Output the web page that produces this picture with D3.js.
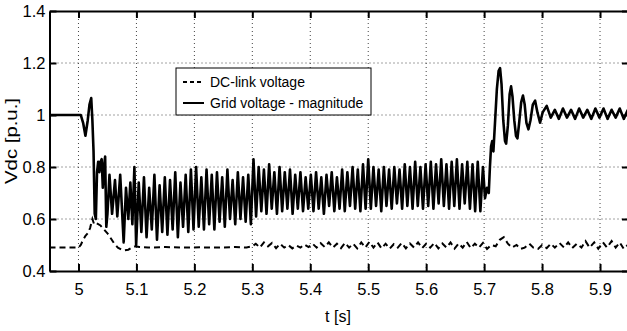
<!DOCTYPE html>
<html>
<head>
<meta charset="utf-8">
<script src="https://cdn.jsdelivr.net/npm/d3@7"></script>
<style>
  body { margin: 0; background: #fff; }
  svg { display: block; font-family: "Liberation Sans", Arial, sans-serif; }
</style>
</head>
<body>
<div id="chart"></div>
<script>
// tick values
const xTicks = [5, 5.1, 5.2, 5.3, 5.4, 5.5, 5.6, 5.7, 5.8, 5.9];
const yTicks = [0.4, 0.6, 0.8, 1, 1.2, 1.4];
const seriesNames = ['DC-link voltage', 'Grid voltage - magnitude'];

// DC-link voltage [t, p.u.] (dashed)
const dcLink = [
  [4.95,0.49],[5.0,0.49],[5.004,0.50],[5.008,0.52],[5.012,0.535],[5.016,0.545],[5.020,0.565],[5.024,0.60],
  [5.027,0.58],[5.030,0.585],[5.034,0.58],[5.038,0.575],[5.044,0.56],[5.050,0.545],[5.056,0.525],[5.062,0.505],
  [5.068,0.49],[5.074,0.483],[5.080,0.48],[5.086,0.482],[5.092,0.49],[5.098,0.495],[5.105,0.492],[5.12,0.49],
  [5.15,0.492],[5.18,0.49],[5.21,0.491],[5.24,0.49],[5.27,0.492],[5.29,0.49],
  [5.300,0.495],[5.306,0.505],[5.313,0.49],[5.320,0.51],[5.327,0.495],[5.334,0.508],[5.341,0.488],[5.348,0.505],
  [5.355,0.49],[5.362,0.50],[5.369,0.487],[5.376,0.498],[5.383,0.49],[5.390,0.502],[5.397,0.492],[5.404,0.505],
  [5.411,0.49],[5.418,0.507],[5.425,0.492],[5.432,0.51],[5.439,0.49],[5.446,0.505],[5.453,0.488],[5.460,0.508],
  [5.467,0.49],[5.474,0.505],[5.481,0.487],[5.488,0.51],[5.495,0.49],[5.502,0.512],[5.509,0.49],[5.516,0.51],
  [5.523,0.487],[5.530,0.505],[5.537,0.486],[5.544,0.503],[5.551,0.49],[5.558,0.508],[5.565,0.487],[5.572,0.506],
  [5.579,0.49],[5.586,0.51],[5.593,0.488],[5.600,0.505],[5.607,0.49],[5.614,0.508],[5.621,0.487],[5.628,0.506],
  [5.635,0.49],[5.642,0.51],[5.649,0.486],[5.656,0.506],[5.663,0.49],[5.670,0.512],[5.677,0.488],[5.684,0.505],
  [5.691,0.49],[5.698,0.508],[5.705,0.485],[5.712,0.50],[5.720,0.495],[5.727,0.52],[5.734,0.53],[5.741,0.505],
  [5.748,0.49],[5.756,0.50],[5.763,0.485],[5.770,0.49],[5.778,0.505],[5.785,0.49],[5.793,0.485],[5.800,0.50],
  [5.808,0.488],[5.815,0.505],[5.822,0.49],[5.830,0.508],[5.838,0.49],[5.845,0.51],[5.852,0.488],[5.860,0.505],
  [5.868,0.49],[5.875,0.515],[5.882,0.49],[5.890,0.51],[5.897,0.486],[5.905,0.51],[5.912,0.49],[5.920,0.515],
  [5.927,0.49],[5.934,0.51],[5.941,0.485],[5.950,0.505]
];

// Grid voltage magnitude [t, p.u.] (solid)
const gridMag = [
  [4.95,1.0],[5.0,1.0],[5.004,1.0],[5.008,0.97],[5.012,0.92],[5.016,0.98],[5.019,1.04],[5.022,1.065],
  [5.024,0.98],[5.026,0.86],[5.028,0.62],[5.030,0.60],[5.032,0.78],[5.034,0.82],[5.036,0.78],[5.038,0.82],
  [5.040,0.83],[5.042,0.72],[5.044,0.80],[5.046,0.84],[5.048,0.57],[5.050,0.62],
  [5.0535,0.77],[5.058,0.62],[5.063,0.75],[5.067,0.61],[5.072,0.77],[5.078,0.51],[5.082,0.72],[5.086,0.60],
  [5.0895,0.74],[5.093,0.58],[5.0965,0.80],[5.0995,0.50],
  [5.104,0.74],[5.1085,0.55],[5.113,0.76],[5.1175,0.53],[5.122,0.72],[5.1265,0.56],[5.131,0.77],[5.1355,0.52],
  [5.140,0.73],[5.1445,0.55],[5.149,0.76],[5.1535,0.54],[5.158,0.75],[5.1625,0.56],[5.167,0.78],[5.1715,0.53],
  [5.176,0.74],[5.1805,0.57],[5.185,0.77],[5.1895,0.55],[5.194,0.79],[5.1985,0.56],
  [5.203,0.80],[5.2075,0.57],[5.212,0.76],[5.2165,0.56],[5.221,0.79],[5.2255,0.58],[5.230,0.77],[5.2345,0.56],
  [5.239,0.78],[5.2435,0.59],[5.248,0.76],[5.2525,0.57],[5.257,0.79],[5.2615,0.60],[5.266,0.75],[5.2705,0.58],
  [5.275,0.78],[5.2795,0.60],[5.284,0.76],[5.2885,0.59],[5.293,0.77],[5.2975,0.58],
  [5.302,0.83],[5.3065,0.61],[5.311,0.80],[5.3155,0.63],[5.320,0.79],[5.3245,0.62],[5.329,0.81],[5.3335,0.64],
  [5.338,0.78],[5.3425,0.62],[5.347,0.80],[5.3515,0.63],[5.356,0.78],[5.3605,0.64],[5.365,0.79],[5.3695,0.62],
  [5.374,0.77],[5.3785,0.64],[5.383,0.78],[5.3875,0.63],[5.392,0.76],[5.3965,0.64],
  [5.401,0.77],[5.4055,0.63],[5.410,0.78],[5.4145,0.64],[5.419,0.76],[5.4235,0.62],[5.428,0.77],[5.4325,0.65],
  [5.437,0.78],[5.4415,0.63],[5.446,0.76],[5.4505,0.64],[5.455,0.79],[5.4595,0.63],[5.464,0.78],[5.4685,0.65],
  [5.473,0.80],[5.4775,0.64],[5.482,0.79],[5.4865,0.63],[5.491,0.81],[5.4955,0.64],
  [5.500,0.83],[5.5045,0.64],[5.509,0.80],[5.5135,0.65],[5.518,0.79],[5.5225,0.63],[5.527,0.80],[5.5315,0.65],
  [5.536,0.79],[5.5405,0.64],[5.545,0.80],[5.5495,0.66],[5.554,0.79],[5.5585,0.64],[5.563,0.81],[5.5675,0.65],
  [5.572,0.80],[5.5765,0.64],[5.581,0.82],[5.5855,0.65],[5.590,0.80],[5.5945,0.64],
  [5.599,0.81],[5.6035,0.65],[5.608,0.82],[5.6125,0.64],[5.617,0.81],[5.6215,0.66],[5.626,0.83],[5.6305,0.65],
  [5.635,0.81],[5.6395,0.64],[5.644,0.82],[5.6485,0.65],[5.653,0.83],[5.6575,0.64],[5.662,0.81],[5.6665,0.66],
  [5.671,0.82],[5.6755,0.64],[5.680,0.81],[5.6845,0.63],[5.689,0.82],[5.6935,0.63],[5.698,0.80],[5.7015,0.68],
  [5.705,0.72],[5.708,0.70],[5.710,0.80],[5.712,0.88],[5.714,0.90],[5.716,0.86],[5.719,0.98],[5.722,1.10],
  [5.725,1.17],[5.7275,1.18],[5.730,1.12],[5.733,0.98],[5.736,0.90],[5.738,0.89],[5.741,0.96],[5.744,1.08],
  [5.7465,1.11],[5.749,1.07],[5.752,0.98],[5.755,0.92],[5.7575,0.91],[5.760,0.96],[5.764,1.05],[5.767,1.075],
  [5.770,1.04],[5.773,0.97],[5.7765,0.945],[5.780,0.98],[5.784,1.04],[5.788,1.055],[5.792,1.01],[5.7965,0.97],
  [5.801,1.01],[5.808,1.035],[5.815,0.99],[5.822,1.02],[5.829,0.985],[5.836,1.025],[5.843,0.99],[5.850,1.02],
  [5.857,0.985],[5.864,1.025],[5.871,0.99],[5.878,1.02],[5.885,0.985],[5.892,1.025],[5.899,0.99],[5.906,1.025],
  [5.913,0.985],[5.920,1.02],[5.927,0.99],[5.934,1.025],[5.941,0.985],[5.948,1.02]
];

let width = 627, height = 331;
let margin = { top: 11, right: -2, bottom: 60, left: 49.5 };
let w = width - margin.left - margin.right,
    h = height - margin.top - margin.bottom;

let x = d3.scaleLinear().domain([4.95, 5.95]).range([0, w]);
let y = d3.scaleLinear().domain([0.4, 1.4]).range([h, 0]);

let svg = d3.select('#chart').append('svg')
    .attr('width', width)
    .attr('height', height);

let main = svg.append('g')
    .attr('transform', 'translate(' + margin.left + ',' + margin.top + ')');

svg.append('defs').append('clipPath').attr('id', 'clip')
    .append('rect').attr('width', w).attr('height', h);

// dotted grid
let grid = main.append('g').attr('class', 'grid');
grid.selectAll('line.vx').data(xTicks).enter().append('line')
    .attr('x1', d => x(d)).attr('x2', d => x(d))
    .attr('y1', 0).attr('y2', h);
grid.selectAll('line.hy').data(yTicks.filter(d => d > 0.4 && d < 1.4)).enter().append('line')
    .attr('x1', 0).attr('x2', w)
    .attr('y1', d => y(d)).attr('y2', d => y(d));
grid.selectAll('line')
    .attr('stroke', '#444')
    .attr('stroke-width', 1)
    .attr('stroke-dasharray', '1,3');

// lines
let line = d3.line()
    .x(d => x(d[0]))
    .y(d => y(d[1]));

let plot = main.append('g').attr('clip-path', 'url(#clip)');

plot.append('path')
    .datum(dcLink)
    .attr('d', line)
    .attr('fill', 'none')
    .attr('stroke', '#000')
    .attr('stroke-width', 2)
    .attr('stroke-dasharray', '6,4');

plot.append('path')
    .datum(gridMag)
    .attr('d', line)
    .attr('fill', 'none')
    .attr('stroke', '#000')
    .attr('stroke-width', 2.6)
    .attr('stroke-linejoin', 'round');

// axes, ticks pointing inward
let fmt = d => d3.format('')(+d.toFixed(1));
let axes = [
    main.append('g').attr('transform', 'translate(0,' + h + ')')
        .call(d3.axisBottom(x).tickValues(xTicks).tickFormat(fmt).tickSizeInner(-7).tickSizeOuter(0).tickPadding(12)),
    main.append('g')
        .call(d3.axisLeft(y).tickValues(yTicks).tickFormat(fmt).tickSizeInner(-7).tickSizeOuter(0).tickPadding(4)),
    main.append('g')
        .call(d3.axisTop(x).tickValues(xTicks).tickFormat('').tickSizeInner(-7).tickSizeOuter(0)),
    main.append('g').attr('transform', 'translate(' + w + ',0)')
        .call(d3.axisRight(y).tickValues(yTicks).tickFormat('').tickSizeInner(-7).tickSizeOuter(0))
];
axes.forEach(a => {
    a.selectAll('.domain').attr('stroke', '#000').attr('stroke-width', 2);
    a.selectAll('.tick line').attr('stroke', '#000').attr('stroke-width', 2);
    a.selectAll('text').attr('font-size', 16.5).attr('fill', '#000')
        .attr('font-family', '"Liberation Sans", Arial, sans-serif');
});

// axis labels
svg.append('text')
    .attr('x', 338).attr('y', 322)
    .attr('text-anchor', 'middle')
    .attr('font-size', 16)
    .text('t [s]');

svg.append('text')
    .attr('transform', 'translate(17,141) rotate(-90)')
    .attr('text-anchor', 'middle')
    .attr('font-size', 16)
    .attr('textLength', 86)
    .attr('lengthAdjust', 'spacingAndGlyphs')
    .text('Vdc [p.u.]');

// legend
let legend = svg.append('g').attr('transform', 'translate(176,68)');
legend.append('rect')
    .attr('width', 195).attr('height', 47)
    .attr('fill', '#fff').attr('stroke', '#000').attr('stroke-width', 1);

let items = legend.selectAll('g.item').data(seriesNames).enter().append('g')
    .attr('transform', (d, i) => 'translate(0,' + (14 + i * 21) + ')');
items.append('line')
    .attr('x1', 7).attr('x2', 28)
    .attr('stroke', '#000').attr('stroke-width', 2)
    .attr('stroke-dasharray', (d, i) => i == 0 ? '4,3' : null);
items.append('text')
    .attr('x', 34).attr('dy', '0.35em')
    .attr('font-size', 14)
    .text(d => d);
</script>
</body>
</html>
